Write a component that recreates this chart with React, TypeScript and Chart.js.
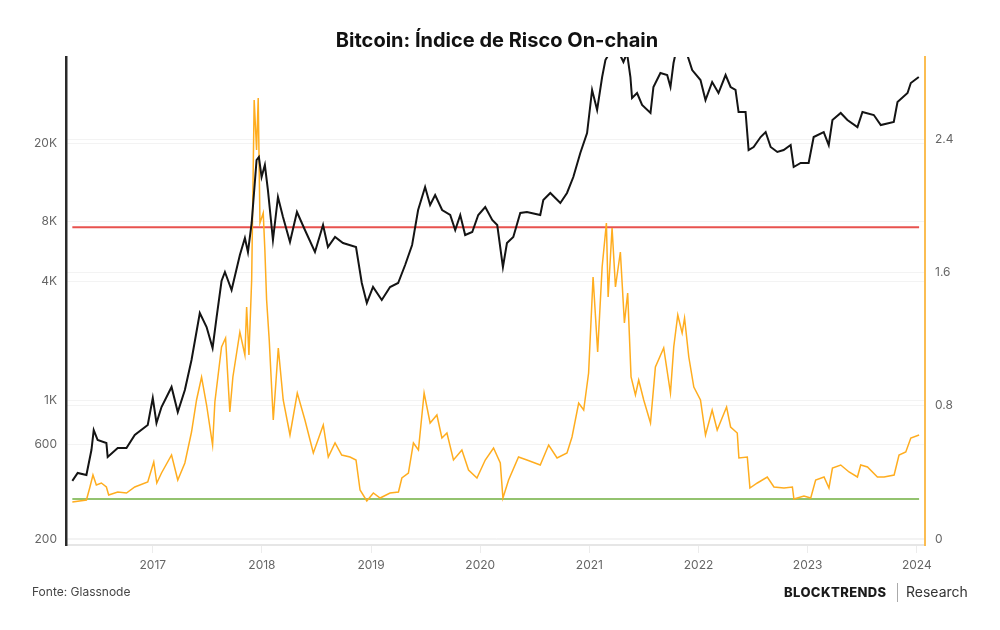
import React, { useEffect, useRef } from "react";
import { Chart, registerables } from "chart.js";

Chart.register(...registerables);

// ---- Data ----
const priceYears = [
  2016.263, 2016.312, 2016.392, 2016.438, 2016.459, 2016.495, 2016.575, 2016.587, 2016.679, 2016.759,
  2016.835, 2016.954, 2017.0, 2017.034, 2017.08, 2017.172, 2017.229, 2017.294, 2017.355, 2017.431,
  2017.493, 2017.548, 2017.584, 2017.63, 2017.661, 2017.722, 2017.798, 2017.844, 2017.872, 2017.906,
  2017.951, 2017.972, 2017.997, 2018.027, 2018.055, 2018.101, 2018.147, 2018.193, 2018.257, 2018.321,
  2018.394, 2018.486, 2018.56, 2018.605, 2018.67, 2018.743, 2018.862, 2018.915, 2018.961, 2019.018,
  2019.098, 2019.174, 2019.248, 2019.312, 2019.376, 2019.431, 2019.495, 2019.541, 2019.587, 2019.651,
  2019.725, 2019.771, 2019.817, 2019.862, 2019.927, 2019.982, 2020.046, 2020.11, 2020.156, 2020.208,
  2020.245, 2020.303, 2020.367, 2020.428, 2020.55, 2020.578, 2020.642, 2020.734, 2020.795, 2020.853,
  2020.917, 2020.979, 2021.025, 2021.071, 2021.117, 2021.147, 2021.193, 2021.22, 2021.266, 2021.312,
  2021.345, 2021.376, 2021.391, 2021.437, 2021.483, 2021.56, 2021.587, 2021.651, 2021.713, 2021.743,
  2021.771, 2021.805, 2021.853, 2021.896, 2021.942, 2022.018, 2022.064, 2022.125, 2022.183, 2022.248,
  2022.294, 2022.339, 2022.367, 2022.431, 2022.459, 2022.505, 2022.569, 2022.615, 2022.661, 2022.722,
  2022.78, 2022.844, 2022.872, 2022.936, 2023.009, 2023.055, 2023.147, 2023.193, 2023.227, 2023.303,
  2023.364, 2023.456, 2023.502, 2023.606, 2023.67, 2023.789, 2023.823, 2023.915, 2023.945, 2024.018,
];
const priceValues = [
  393, 431, 421, 563, 710, 632, 611, 519, 576, 576,
  670, 753, 1031, 771, 928, 1172, 876, 1131, 1603, 2770,
  2354, 1844, 2614, 4018, 4462, 3620, 5438, 6626, 5630, 7890,
  16414, 17000, 13470, 15486, 11576, 6474, 10676, 8460, 6325, 8966,
  7272, 5630, 7708, 5966, 6704, 6252, 5966, 3926, 3112, 3748,
  3222, 3748, 3926, 4840, 6108, 9176, 11990, 9726, 10926, 9176,
  8658, 7272, 8658, 6860, 7104, 8658, 9504, 8168, 7708, 4728,
  6252, 6704, 8862, 8966, 8658, 10308, 11184, 9954, 11184, 13470,
  17806, 22464, 37060, 29360, 43088, 52520, 58000, 56000, 58000, 51320,
  57000, 43088, 33760, 35780, 31120, 28360, 38360, 45140, 44100, 38360,
  50700, 62000, 66000, 56000, 46740, 41620, 32980, 40660, 35780, 44100,
  38360, 37060, 28680, 28680, 18436, 19092, 21440, 22720, 19092, 18012,
  18436, 19540, 15130, 15850, 15850, 21440, 22720, 19540, 26140, 28360,
  26140, 24080, 28680, 27700, 24660, 25540, 32220, 35780, 40180, 43088,
];

const riskYears = [
  2016.263, 2016.392, 2016.422, 2016.452, 2016.483, 2016.529, 2016.575, 2016.596, 2016.679, 2016.759,
  2016.835, 2016.954, 2017.009, 2017.037, 2017.08, 2017.172, 2017.229, 2017.294, 2017.355, 2017.401,
  2017.447, 2017.493, 2017.548, 2017.569, 2017.63, 2017.667, 2017.706, 2017.734, 2017.798, 2017.844,
  2017.86, 2017.881, 2017.906, 2017.929, 2017.951, 2017.966, 2017.982, 2018.012, 2018.027, 2018.043,
  2018.067, 2018.104, 2018.15, 2018.195, 2018.257, 2018.324, 2018.394, 2018.471, 2018.562, 2018.608,
  2018.67, 2018.731, 2018.807, 2018.862, 2018.899, 2018.961, 2019.021, 2019.083, 2019.174, 2019.251,
  2019.282, 2019.342, 2019.388, 2019.434, 2019.486, 2019.541, 2019.603, 2019.649, 2019.695, 2019.755,
  2019.832, 2019.893, 2019.97, 2020.046, 2020.122, 2020.184, 2020.208, 2020.26, 2020.351, 2020.428,
  2020.55, 2020.627, 2020.704, 2020.795, 2020.841, 2020.902, 2020.948, 2020.993, 2021.034, 2021.076,
  2021.117, 2021.156, 2021.172, 2021.208, 2021.239, 2021.284, 2021.321, 2021.351, 2021.382, 2021.422,
  2021.452, 2021.498, 2021.56, 2021.605, 2021.681, 2021.743, 2021.773, 2021.81, 2021.85, 2021.872,
  2021.911, 2021.957, 2022.018, 2022.064, 2022.125, 2022.171, 2022.257, 2022.294, 2022.355, 2022.37,
  2022.447, 2022.471, 2022.539, 2022.63, 2022.691, 2022.783, 2022.86, 2022.874, 2022.966, 2023.028,
  2023.073, 2023.15, 2023.195, 2023.227, 2023.303, 2023.379, 2023.456, 2023.486, 2023.548, 2023.639,
  2023.7, 2023.792, 2023.837, 2023.899, 2023.945, 2024.021,
];
const riskValues = [
  0.222, 0.234, 0.306, 0.384, 0.324, 0.336, 0.312, 0.264, 0.282, 0.276,
  0.312, 0.342, 0.462, 0.336, 0.396, 0.504, 0.354, 0.456, 0.642, 0.834,
  0.972, 0.804, 0.564, 0.822, 1.152, 1.206, 0.762, 0.972, 1.242, 1.104,
  1.392, 1.104, 1.554, 2.634, 2.334, 2.646, 1.896, 1.956, 1.734, 1.434,
  1.194, 0.714, 1.146, 0.834, 0.624, 0.876, 0.714, 0.516, 0.684, 0.492,
  0.576, 0.504, 0.492, 0.474, 0.294, 0.228, 0.276, 0.246, 0.276, 0.282,
  0.366, 0.396, 0.576, 0.534, 0.876, 0.696, 0.744, 0.606, 0.636, 0.474,
  0.534, 0.414, 0.366, 0.474, 0.546, 0.456, 0.246, 0.354, 0.492, 0.474,
  0.444, 0.564, 0.486, 0.516, 0.612, 0.816, 0.774, 0.996, 1.572, 1.122,
  1.632, 1.896, 1.452, 1.866, 1.512, 1.722, 1.296, 1.476, 0.972, 0.864,
  0.954, 0.834, 0.696, 1.032, 1.146, 0.876, 1.152, 1.344, 1.236, 1.326,
  1.092, 0.912, 0.834, 0.624, 0.774, 0.654, 0.792, 0.672, 0.636, 0.486,
  0.492, 0.306, 0.336, 0.372, 0.312, 0.306, 0.312, 0.24, 0.258, 0.246,
  0.354, 0.372, 0.306, 0.426, 0.444, 0.402, 0.372, 0.444, 0.432, 0.372,
  0.372, 0.384, 0.504, 0.522, 0.606, 0.624,
];

const RED_LEVEL = 1.87;
const GREEN_LEVEL = 0.24;
const LEVEL_START = 2016.263;
const LEVEL_END = 2024.021;

const yearTicks = [2017, 2018, 2019, 2020, 2021, 2022, 2023, 2024];
const leftTicks = [200, 600, 1000, 4000, 8000, 20000];
const leftTickLabels = ["200", "600", "1K", "4K", "8K", "20K"];
const rightTicks = [0, 0.8, 1.6, 2.4];
const rightTickLabels = ["0", "0.8", "1.6", "2.4"];

const X_MIN = 2016.205;
const X_MAX = 2024.075;

const FONT = "Inter, 'Noto Sans', sans-serif";

export default function App() {
  const canvasRef = useRef<HTMLCanvasElement | null>(null);

  useEffect(() => {
    if (!canvasRef.current) return;
    const priceData = priceYears.map((x, i) => ({ x, y: priceValues[i] }));
    const riskData = riskYears.map((x, i) => ({ x, y: riskValues[i] }));
    const chart = new Chart(canvasRef.current, {
      type: "line",
      data: {
        datasets: [
          {
            label: "Preço BTC",
            data: priceData,
            yAxisID: "yL",
            borderColor: "#141414",
            borderWidth: 2,
            pointRadius: 0,
            tension: 0,
          },
          {
            label: "Índice de Risco",
            data: riskData,
            yAxisID: "yR",
            borderColor: "#ffad1f",
            borderWidth: 1.5,
            pointRadius: 0,
            tension: 0,
          },
          {
            label: "Alto risco",
            data: [
              { x: LEVEL_START, y: RED_LEVEL },
              { x: LEVEL_END, y: RED_LEVEL },
            ],
            yAxisID: "yR",
            borderColor: "#e8524e",
            borderWidth: 2,
            pointRadius: 0,
          },
          {
            label: "Baixo risco",
            data: [
              { x: LEVEL_START, y: GREEN_LEVEL },
              { x: LEVEL_END, y: GREEN_LEVEL },
            ],
            yAxisID: "yR",
            borderColor: "#93c36f",
            borderWidth: 2,
            pointRadius: 0,
          },
        ],
      },
      options: {
        responsive: false,
        animation: false,
        maintainAspectRatio: false,
        layout: { padding: { top: 57, left: 0, right: 0, bottom: 0 } },
        plugins: {
          legend: { display: false },
          tooltip: { enabled: false },
          title: { display: false },
        },
        scales: {
          x: {
            type: "linear",
            min: X_MIN,
            max: X_MAX,
            afterBuildTicks: (scale: any) => {
              scale.ticks = yearTicks.map((v) => ({ value: v }));
            },
            afterFit: (scale: any) => {
              scale.height = 85;
            },
            ticks: {
              autoSkip: false,
              maxRotation: 0,
              padding: 5,
              color: "#666",
              font: { family: FONT, size: 12 },
              callback: (v: any) => String(v),
            },
            grid: {
              drawOnChartArea: false,
              drawTicks: true,
              tickLength: 8,
              color: "#ececec",
            },
            border: { display: true, color: "#e6e6e6", width: 2 },
          },
          yL: {
            type: "logarithmic",
            position: "left",
            min: 186.5,
            max: 54380,
            afterBuildTicks: (scale: any) => {
              scale.ticks = leftTicks.map((v) => ({ value: v }));
            },
            afterFit: (scale: any) => {
              scale.width = 66;
            },
            ticks: {
              autoSkip: false,
              padding: 9,
              color: "#666",
              font: { family: FONT, size: 12 },
              callback: (v: any) => {
                const i = leftTicks.indexOf(Number(v));
                return i >= 0 ? leftTickLabels[i] : "";
              },
            },
            grid: { drawTicks: false, color: "#f3f3f3" },
            border: { display: true, color: "#2a2a2a", width: 2.5 },
          },
          yR: {
            type: "linear",
            position: "right",
            min: -0.036,
            max: 2.892,
            afterBuildTicks: (scale: any) => {
              scale.ticks = rightTicks.map((v) => ({ value: v }));
            },
            afterFit: (scale: any) => {
              scale.width = 75;
            },
            ticks: {
              autoSkip: false,
              padding: 10,
              color: "#666",
              font: { family: FONT, size: 12 },
              callback: (v: any) => {
                const i = rightTicks.indexOf(Number(v));
                return i >= 0 ? rightTickLabels[i] : "";
              },
            },
            grid: { drawTicks: false, color: "#f3f3f3" },
            border: { display: true, color: "#fbbd52", width: 2 },
          },
        },
      },
    });
    return () => chart.destroy();
  }, []);

  return (
    <div
      style={{
        position: "absolute",
        left: 0,
        top: 0,
        width: 1000,
        height: 630,
        background: "#fff",
        fontFamily: FONT,
        overflow: "hidden",
      }}
    >
      <canvas ref={canvasRef} width={1000} height={630} style={{ position: "absolute", left: 0, top: 0 }} />
      <div
        style={{
          position: "absolute",
          left: 0,
          top: 28,
          width: 994,
          textAlign: "center",
          fontWeight: 700,
          fontSize: 20,
          lineHeight: "24px",
          color: "#111",
        }}
      >
        Bitcoin: Índice de Risco On-chain
      </div>
      <div
        style={{
          position: "absolute",
          left: 32,
          top: 584,
          fontSize: 12,
          lineHeight: "16px",
          color: "#444",
        }}
      >
        Fonte: Glassnode
      </div>
      <div
        style={{
          position: "absolute",
          left: 784,
          top: 583.5,
          fontSize: 13,
          lineHeight: "16px",
          fontWeight: 800,
          letterSpacing: 0.4,
          color: "#1a1a1a",
        }}
      >
        BLOCKTRENDS
      </div>
      <div
        style={{
          position: "absolute",
          left: 897,
          top: 583,
          width: 1,
          height: 19,
          background: "#aaa",
        }}
      />
      <div
        style={{
          position: "absolute",
          left: 906,
          top: 583.5,
          fontSize: 14,
          lineHeight: "16px",
          color: "#333",
        }}
      >
        Research
      </div>
    </div>
  );
}
